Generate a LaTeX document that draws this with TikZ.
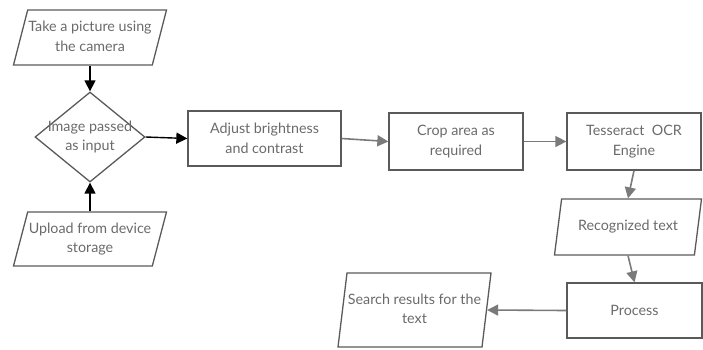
\documentclass[tikz,border=0pt]{standalone}
\usepackage{fontspec}
\setmainfont{Lato}
\usepackage{xcolor}
\usetikzlibrary{shapes.geometric, arrows.meta}

\definecolor{rand}{HTML}{5A5A5A}
\definecolor{schrift}{HTML}{6A6A6A}
\definecolor{pfeil}{HTML}{7A7A7A}

\tikzset{
	kasten/.style={draw=rand, line width=1.3pt, rectangle, inner sep=0pt,
		align=center, text=schrift, font=\fontsize{14.3}{19.5}\selectfont},
	schraeg/.style={kasten, trapezium, trapezium left angle=70, trapezium right angle=110,
		trapezium stretches body},
	raute/.style={kasten, diamond},
	pfeilschwarz/.style={line width=1.4pt, black, -{Triangle[length=11pt, width=11pt]}},
	pfeilgrau/.style={line width=1.6pt, pfeil, -{Triangle[length=11pt, width=11pt]}}
}

\newcommand{\zeilen}[1]{\makebox[0pt]{\begin{tabular}{@{}c@{}}#1\end{tabular}}}

\begin{document}
\begin{tikzpicture}[x=1pt, y=-1pt]
	\useasboundingbox (0,0) rectangle (703,349);
	% linke seite, eingabe
	\node[schraeg, minimum width=153pt, minimum height=55pt] (kamera) at (90,37.5)
		{\zeilen{Take a picture using\\the camera}};
	\node[raute, minimum width=110pt, minimum height=90pt] (bild) at (90,137)
		{\zeilen{Image passed\\as input}};
	\node[schraeg, minimum width=153pt, minimum height=54pt] (upload) at (90,239)
		{\zeilen{Upload from device\\storage}};
	% obere reihe
	\node[kasten, minimum width=153pt, minimum height=55pt] (hell) at (264.5,138.5)
		{Adjust brightness\\and contrast};
	\node[kasten, minimum width=134pt, minimum height=57pt] (zuschnitt) at (456,141.5)
		{Crop area as\\required};
	\node[kasten, minimum width=134pt, minimum height=57pt] (ocr) at (634,141.5)
		{Tesseract~ OCR\\Engine};
	% rechte seite, ausgabe
	\node[schraeg, minimum width=147pt, minimum height=56pt] (erkannt) at (628,227)
		{\zeilen{Recognized text}};
	\node[kasten, minimum width=135pt, minimum height=55pt] (verarb) at (634.5,310.5)
		{Process};
	\node[schraeg, minimum width=153pt, minimum height=74pt, trapezium left angle=77,
		trapezium right angle=103] (suche) at (414.5,310)
		{\zeilen{Search results for the\\text}};
	% pfeile
	\draw[pfeilschwarz] (kamera.south) -- (bild.north);
	\draw[pfeilschwarz] (upload.north) -- (bild.south);
	\draw[pfeilschwarz] (bild.east) -- (hell.west);
	\draw[pfeilgrau] (hell.east) -- (zuschnitt.west);
	\draw[pfeilgrau] (zuschnitt.east) -- (ocr.west);
	\draw[pfeilgrau] (ocr.south) -- (erkannt.north);
	\draw[pfeilgrau] (erkannt.south) -- (verarb.north);
	\draw[pfeilgrau] (verarb.west) -- (suche.east);
\end{tikzpicture}
\end{document}
